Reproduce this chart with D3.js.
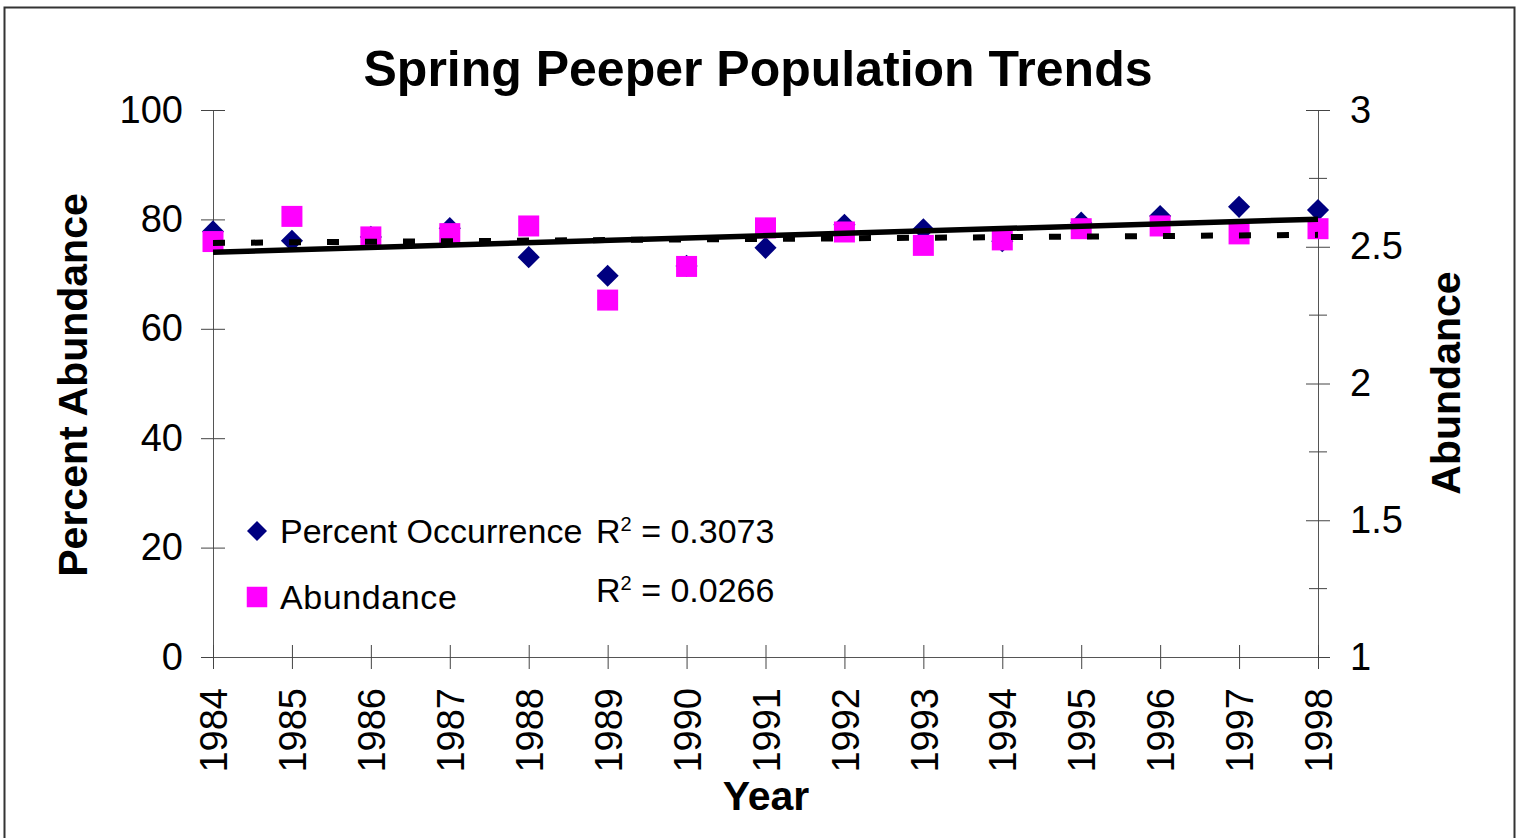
<!DOCTYPE html>
<html>
<head>
<meta charset="utf-8">
<script src="https://cdn.jsdelivr.net/npm/d3@7"></script>
<style>
  body { margin: 0; background: #fff; }
  svg { font-family: "Liberation Sans", Arial, sans-serif; }
</style>
</head>
<body>
<div id="chart"></div>
<script>
// Data
var years = [1984, 1985, 1986, 1987, 1988, 1989, 1990, 1991, 1992, 1993, 1994, 1995, 1996, 1997, 1998];
var percentOccurrence = [77.8, 76.1, 76.8, 78.4, 73.1, 69.7, 71.5, 74.8, 79.0, 78.2, 76.0, 79.4, 80.6, 82.3, 81.7];
var abundance = [2.519, 2.611, 2.536, 2.548, 2.576, 2.305, 2.428, 2.569, 2.554, 2.505, 2.525, 2.566, 2.576, 2.547, 2.566];
var leftTicks = [0, 20, 40, 60, 80, 100];
var rightTicks = [1, 1.5, 2, 2.5, 3];
var rightMinor = [1.25, 1.75, 2.25, 2.75];

var svgWidth = 1521;
var svgHeight = 838;

var svg = d3.select("#chart")
  .append("svg")
  .attr("width", svgWidth)
  .attr("height", svgHeight);

// outer frame
svg.append("rect")
  .attr("x", 4.5).attr("y", 7.5)
  .attr("width", 1510).attr("height", 840)
  .attr("fill", "none")
  .attr("stroke", "#333")
  .attr("stroke-width", 2);

// Scales
var x = d3.scaleLinear().domain([1984, 1998]).range([213, 1318]);
var yLeft = d3.scaleLinear().domain([0, 100]).range([657, 110]);
var yRight = d3.scaleLinear().domain([1, 3]).range([657, 110]);

// Left axis (ticks cross the axis line)
var leftAxis = svg.append("g")
  .attr("transform", "translate(213,0)")
  .call(d3.axisLeft(yLeft).tickValues(leftTicks).tickSize(12).tickPadding(18).tickSizeOuter(0));
leftAxis.selectAll(".tick line").attr("x1", 12);

// Right axis
var rightAxis = svg.append("g")
  .attr("transform", "translate(1318,0)")
  .call(d3.axisRight(yRight).tickValues(rightTicks).tickFormat(d => String(d)).tickSize(12).tickPadding(20).tickSizeOuter(0));
rightAxis.selectAll(".tick line").attr("x1", -12);
rightAxis.selectAll(".minor")
  .data(rightMinor)
  .enter()
  .append("line")
  .attr("class", "minor")
  .attr("x1", -9).attr("x2", 9)
  .attr("y1", d => yRight(d)).attr("y2", d => yRight(d))
  .attr("stroke", "#444");

// Bottom axis with rotated year labels
var bottomAxis = svg.append("g")
  .attr("transform", "translate(0,657)")
  .call(d3.axisBottom(x).tickValues(years).tickFormat(d3.format("d")).tickSize(12).tickSizeOuter(0));
bottomAxis.selectAll(".tick line").attr("y1", -12);
bottomAxis.selectAll(".tick text")
  .attr("transform", "rotate(-90)")
  .attr("text-anchor", "end")
  .attr("x", -31)
  .attr("y", 0)
  .attr("dy", "0.36em");

[leftAxis, rightAxis, bottomAxis].forEach(function (g) {
  g.select(".domain").attr("stroke", "#555");
  g.selectAll(".tick line").attr("stroke", "#444");
  g.selectAll(".tick text")
    .attr("fill", "#000")
    .attr("font-size", 38)
    .attr("font-family", "Liberation Sans, Arial, sans-serif");
});

// Markers
var diamond = d3.symbol().type(d3.symbolSquare).size(245);
var square = d3.symbol().type(d3.symbolSquare).size(441);

svg.append("g").selectAll("path")
  .data(years)
  .enter()
  .append("path")
  .attr("d", diamond)
  .attr("transform", (d, i) => `translate(${x(d)},${yLeft(percentOccurrence[i])}) rotate(45)`)
  .attr("fill", "#000080");

svg.append("g").selectAll("path")
  .data(years)
  .enter()
  .append("path")
  .attr("d", square)
  .attr("transform", (d, i) => `translate(${x(d)},${yRight(abundance[i])})`)
  .attr("fill", "#ff00ff");

// Linear trend lines
function linearFit(xs, ys) {
  var mx = d3.mean(xs), my = d3.mean(ys);
  var sxy = d3.sum(xs, (v, i) => (v - mx) * (ys[i] - my));
  var sxx = d3.sum(xs, v => (v - mx) * (v - mx));
  var b = sxy / sxx;
  return function (v) { return my + b * (v - mx); };
}

var fitAbund = linearFit(years, abundance);
var fitPct = linearFit(years, percentOccurrence);
var ends = [1984, 1998];

svg.append("path")
  .datum(ends)
  .attr("d", d3.line().x(d => x(d)).y(d => yRight(fitAbund(d))))
  .attr("stroke", "#000")
  .attr("stroke-width", 6)
  .attr("stroke-dasharray", "12,26")
  .attr("fill", "none");

svg.append("path")
  .datum(ends)
  .attr("d", d3.line().x(d => x(d)).y(d => yLeft(fitPct(d))))
  .attr("stroke", "#000")
  .attr("stroke-width", 5.5)
  .attr("fill", "none");

// Title and axis titles
svg.append("text")
  .attr("x", 758).attr("y", 86)
  .attr("text-anchor", "middle")
  .attr("font-size", 50)
  .attr("font-weight", "bold")
  .text("Spring Peeper Population Trends");

svg.append("text")
  .attr("transform", "translate(87,385) rotate(-90)")
  .attr("text-anchor", "middle")
  .attr("font-size", 41)
  .attr("font-weight", "bold")
  .text("Percent Abundance");

svg.append("text")
  .attr("transform", "translate(1460,383) rotate(-90)")
  .attr("text-anchor", "middle")
  .attr("font-size", 41)
  .attr("font-weight", "bold")
  .text("Abundance");

svg.append("text")
  .attr("x", 766).attr("y", 810)
  .attr("text-anchor", "middle")
  .attr("font-size", 41)
  .attr("font-weight", "bold")
  .text("Year");

// Legend
var legend = svg.append("g").attr("font-size", 34);
legend.append("path")
  .attr("d", d3.symbol().type(d3.symbolSquare).size(200))
  .attr("transform", "translate(257,531) rotate(45)")
  .attr("fill", "#000080");
legend.append("path")
  .attr("d", d3.symbol().type(d3.symbolSquare).size(420))
  .attr("transform", "translate(257,597)")
  .attr("fill", "#ff00ff");
legend.append("text").attr("x", 280).attr("y", 543).text("Percent Occurrence");
legend.append("text").attr("x", 280).attr("y", 609).attr("letter-spacing", 0.6).text("Abundance");

function rSquared(yPos, value) {
  var t = legend.append("text").attr("x", 596).attr("y", yPos);
  t.append("tspan").text("R");
  t.append("tspan").attr("dy", -12).attr("font-size", 20).text("2");
  t.append("tspan").attr("dy", 12).text(" = " + value);
}
rSquared(543, "0.3073");
rSquared(602, "0.0266");
</script>
</body>
</html>
